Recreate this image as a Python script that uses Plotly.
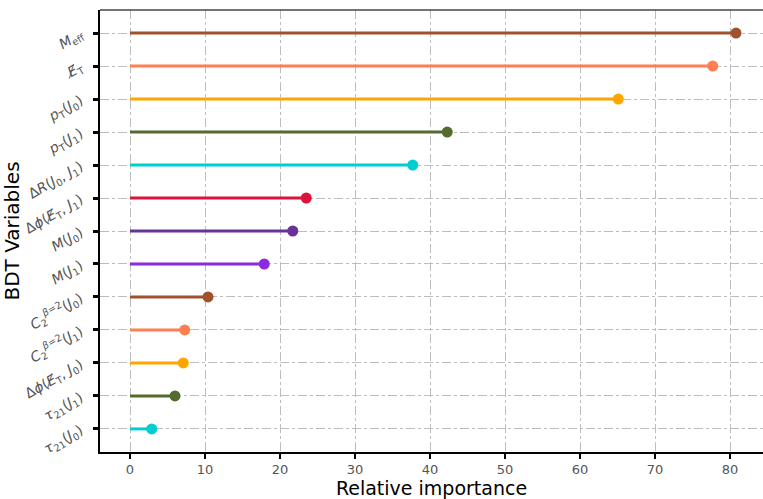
import plotly.graph_objects as go

# BDT input variables, listed bottom to top
variables = [
    "<i>τ</i><sub>21</sub>(<i>J</i><sub>0</sub>)",
    "<i>τ</i><sub>21</sub>(<i>J</i><sub>1</sub>)",
    "Δ<i>ϕ</i>(<i>E̸</i><sub>T</sub>, <i>J</i><sub>0</sub>)",
    "<i>C</i><sub>2</sub><sup><i>β</i>=2</sup>(<i>J</i><sub>1</sub>)",
    "<i>C</i><sub>2</sub><sup><i>β</i>=2</sup>(<i>J</i><sub>0</sub>)",
    "<i>M</i>(<i>J</i><sub>1</sub>)",
    "<i>M</i>(<i>J</i><sub>0</sub>)",
    "Δ<i>ϕ</i>(<i>E̸</i><sub>T</sub>, <i>J</i><sub>1</sub>)",
    "Δ<i>R</i>(<i>J</i><sub>0</sub>, <i>J</i><sub>1</sub>)",
    "<i>p</i><sub>T</sub>(<i>J</i><sub>1</sub>)",
    "<i>p</i><sub>T</sub>(<i>J</i><sub>0</sub>)",
    "<i>E̸</i><sub>T</sub>",
    "<i>M</i><sub>eff</sub>",
]
importance = [2.9, 6.0, 7.1, 7.3, 10.4, 17.9, 21.7, 23.5, 37.7, 42.3, 65.1, 77.7, 80.8]
colors = [
    "#00CED1", "#556B2F", "#FFA500", "#FF7F50", "#A0522D",
    "#8A2BE2", "#663399", "#DC143C", "#00CED1", "#556B2F",
    "#FFA500", "#FF7F50", "#A0522D",
]
x_ticks = [0, 10, 20, 30, 40, 50, 60, 70, 80]

fig = go.Figure()
for name, val, col in zip(variables, importance, colors):
    # stem from zero to the importance value
    fig.add_trace(go.Scatter(
        x=[0, val], y=[name, name], mode="lines",
        line=dict(color=col, width=3),
        showlegend=False, hoverinfo="skip",
    ))
    # head of the lollipop
    fig.add_trace(go.Scatter(
        x=[val], y=[name], mode="markers",
        marker=dict(color=col, size=11, opacity=1, line=dict(width=0)),
        showlegend=False, hoverinfo="x+y",
    ))

grid_col = "#bdbdbd"
fig.update_xaxes(
    range=[-4, 84.4], tickvals=x_ticks,
    showgrid=True, gridcolor=grid_col, griddash="dashdot", gridwidth=1,
    showline=True, linecolor="black", linewidth=1.5,
    ticks="outside", ticklen=5, tickwidth=2, tickcolor="black",
    tickfont=dict(family="DejaVu Sans", size=13, color="#555555"),
    zeroline=False,
    title=dict(text="Relative importance", standoff=8,
               font=dict(family="DejaVu Sans", size=19, color="black")),
)
fig.update_yaxes(
    type="category", categoryorder="array", categoryarray=variables,
    range=[-0.7, 12.7],
    showgrid=True, gridcolor=grid_col, griddash="dashdot", gridwidth=1,
    showline=True, linecolor="black", linewidth=1.5,
    ticks="outside", ticklen=5, tickwidth=3, tickcolor="black",
    tickangle=-30, ticklabelstandoff=10,
    tickfont=dict(family="DejaVu Sans", size=14, color="#555555"),
    title=dict(text="BDT Variables", standoff=2,
               font=dict(family="DejaVu Sans", size=20, color="black")),
)
fig.add_shape(type="line", xref="paper", yref="paper", x0=0, x1=1, y0=1, y1=1,
              line=dict(color="#444444", width=1.5))
fig.update_layout(
    width=763, height=499,
    margin=dict(l=100, r=0, t=10, b=45),
    plot_bgcolor="white", paper_bgcolor="white",
)
fig.write_html("out.html")
